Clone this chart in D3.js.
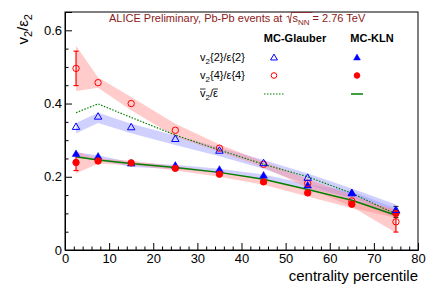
<!DOCTYPE html>
<html>
<head>
<meta charset="utf-8">
<script src="https://cdn.jsdelivr.net/npm/d3@7"></script>
<style>
  body { margin: 0; background: #fff; }
  text { font-family: "Liberation Sans", Arial, sans-serif; }
</style>
</head>
<body>
<div id="chart"></div>
<script>
// data
const cent = [2.5, 7.5, 15, 25, 35, 45, 55, 65, 75];

// MC-Glauber
const glbV22 = [0.333, 0.361, 0.332, 0.300, 0.268, 0.234, 0.194, 0.152, 0.106];
const glbV22Sys = [0.014, 0.014, 0.013, 0.013, 0.012, 0.012, 0.015, 0.016, 0.018];
const glbV24 = [0.496, 0.457, 0.400, 0.327, 0.278, 0.234, 0.182, 0.134, 0.077];
const glbV24Sys = [0.062, 0.014, 0.018, 0.018, 0.010, 0.008, 0.012, 0.016, 0.030];
const glbV24Err = [0.047, 0.004, 0.003, 0.003, 0.003, 0.003, 0.004, 0.006, 0.028];
const glbMean = [0.375, 0.399, 0.362, 0.314, 0.273, 0.234, 0.200, 0.155, 0.098];

// MC-KLN
const klnV22 = [0.259, 0.252, 0.233, 0.227, 0.216, 0.200, 0.173, 0.152, 0.104];
const klnV22Sys = [0.008, 0.007, 0.006, 0.006, 0.006, 0.006, 0.007, 0.008, 0.010];
const klnV22Err = [0.003, 0.002, 0.002, 0.002, 0.002, 0.002, 0.003, 0.004, 0.015];
const klnV24 = [0.239, 0.243, 0.238, 0.223, 0.207, 0.186, 0.156, 0.125, 0.100];
const klnV24Sys = [0.030, 0.007, 0.006, 0.006, 0.007, 0.008, 0.010, 0.010, 0.012];
const klnV24Err = [0.022, 0.004, 0.003, 0.003, 0.003, 0.003, 0.003, 0.004, 0.006];
const klnMean = [0.2545, 0.246, 0.236, 0.225, 0.212, 0.193, 0.165, 0.136, 0.095];

const xTicks = [0, 10, 20, 30, 40, 50, 60, 70, 80];
const yTicks = [0, 0.2, 0.4, 0.6];

//chart properties
const width = 436, height = 295;
const margin = { top: 12, right: 18, bottom: 45, left: 65 };
const chartW = width - margin.left - margin.right;
const chartH = height - margin.top - margin.bottom;

const red = "#ff0000", blue = "#0000ff", green = "#007f00";

const svg = d3.select("#chart").append("svg")
    .attr("width", width)
    .attr("height", height);

const g = svg.append("g")
    .attr("transform", "translate(" + margin.left + "," + margin.top + ")");

const x = d3.scaleLinear().domain([0, 80]).range([0, chartW]);
const y = d3.scaleLinear().domain([0, 0.65]).range([chartH, 0]);

// bands
const band = d3.area()
    .x(d => x(d.c))
    .y0(d => y(d.v - d.s))
    .y1(d => y(d.v + d.s));
const rows = (v, s) => cent.map((c, i) => ({ c: c, v: v[i], s: s[i] }));

g.append("path").datum(rows(glbV22, glbV22Sys))
    .attr("d", band).attr("fill", "rgba(150,150,255,0.45)");
g.append("path").datum(rows(klnV22, klnV22Sys))
    .attr("d", band).attr("fill", "rgba(150,150,255,0.45)");
g.append("path").datum(rows(glbV24, glbV24Sys))
    .attr("d", band).attr("fill", "rgba(255,140,140,0.45)");
g.append("path").datum(rows(klnV24, klnV24Sys))
    .attr("d", band).attr("fill", "rgba(255,140,140,0.45)");

// lines
const line = d3.line().x((d, i) => x(cent[i])).y(d => y(d));
g.append("path").datum(glbMean).attr("d", line)
    .attr("fill", "none").attr("stroke", green).attr("stroke-width", 1.2)
    .attr("stroke-dasharray", "1.5,1.5");
g.append("path").datum(klnMean).attr("d", line)
    .attr("fill", "none").attr("stroke", green).attr("stroke-width", 1.5);

// error bars
function errBars(vals, errs, color) {
    const eg = g.append("g").attr("stroke", color).attr("stroke-width", 1.2);
    cent.forEach((c, i) => {
        if (errs[i] < 0.008) return;
        const cx = x(c);
        eg.append("line").attr("x1", cx).attr("x2", cx)
            .attr("y1", y(vals[i] - errs[i])).attr("y2", y(vals[i] + errs[i]));
        [vals[i] - errs[i], vals[i] + errs[i]].forEach(v => {
            eg.append("line").attr("x1", cx - 2.5).attr("x2", cx + 2.5)
                .attr("y1", y(v)).attr("y2", y(v));
        });
    });
}
errBars(klnV22, klnV22Err, "#333");
errBars(glbV24, glbV24Err, red);
errBars(klnV24, klnV24Err, red);

// markers
const tri = d3.symbol().type(d3.symbolTriangle);
function triangles(vals, filled, size) {
    g.append("g").selectAll("path").data(vals).join("path")
        .attr("transform", (d, i) => "translate(" + x(cent[i]) + "," + (y(d) - 0.8) + ")")
        .attr("d", tri.size(size))
        .attr("fill", filled ? blue : "none")
        .attr("stroke", blue).attr("stroke-width", filled ? 0.5 : 1);
}
function circles(vals, filled) {
    g.append("g").selectAll("circle").data(vals).join("circle")
        .attr("cx", (d, i) => x(cent[i]))
        .attr("cy", d => y(d))
        .attr("r", 3.2)
        .attr("fill", filled ? red : "none")
        .attr("stroke", red).attr("stroke-width", 1);
}
triangles(klnV22, true, 26);
circles(klnV24, true);
circles(glbV24, false);
triangles(glbV22, false, 24);

// axes
g.append("g").attr("transform", "translate(0," + chartH + ")")
    .call(d3.axisBottom(x).tickValues(xTicks).tickSize(-7).tickPadding(4).tickFormat(d3.format("d")));
g.append("g").attr("transform", "translate(0," + chartH + ")")
    .call(d3.axisBottom(x).tickValues(d3.range(0, 81, 2).filter(v => v % 10)).tickSize(-3.5).tickFormat(""))
    .select(".domain").remove();

const yAxisG = g.append("g")
    .call(d3.axisLeft(y).tickValues(yTicks).tickSize(-7).tickPadding(3).tickFormat(d => d === 0 ? "0" : d3.format(".1f")(d)));
g.append("g")
    .call(d3.axisLeft(y).tickValues(d3.range(1, 12).filter(v => v % 4).map(v => v * 0.05)).tickSize(-3.5).tickFormat(""))
    .select(".domain").remove();

svg.selectAll(".tick text").attr("font-size", 13).attr("fill", "#000")
    .attr("font-family", "Liberation Sans, Arial, sans-serif");
svg.selectAll(".tick line").attr("stroke", "#000");
yAxisG.selectAll(".tick text").attr("x", -3);

// frame
g.append("rect").attr("width", chartW).attr("height", chartH)
    .attr("fill", "none").attr("stroke", "#000").attr("stroke-width", 1);

// axis titles
svg.append("text")
    .attr("x", margin.left + chartW).attr("y", 281)
    .attr("text-anchor", "end").attr("font-size", 15)
    .text("centrality percentile");

const yl = svg.append("text")
    .attr("transform", "translate(28,14) rotate(-90)")
    .attr("text-anchor", "end").attr("font-size", 15);
yl.append("tspan").text("v");
yl.append("tspan").attr("dy", 4).attr("font-size", 11).text("2");
yl.append("tspan").attr("dy", -4).text("/ε");
yl.append("tspan").attr("dy", 4).attr("font-size", 11).text("2");

// title
const title = svg.append("text")
    .attr("x", 109).attr("y", 22)
    .attr("font-size", 11).attr("fill", "#8b1a1a");
title.append("tspan").text("ALICE Preliminary, Pb-Pb events at ");
title.append("tspan").attr("dx", 7).text("s");
title.append("tspan").attr("dy", 2.5).attr("font-size", 8).text("NN");
title.append("tspan").attr("dy", -2.5).text(" = 2.76 TeV");
{
    const ext = title.node().getExtentOfChar(35);
    const x0 = ext.x - 1, x1 = ext.x + 20;
    svg.append("path")
        .attr("d", "M" + (x0 - 5) + ",17 L" + (x0 - 3) + ",16 L" + (x0 - 1.5) + ",23 L" + x0 + ",12.5 L" + x1 + ",12.5")
        .attr("fill", "none").attr("stroke", "#8b1a1a").attr("stroke-width", 0.8);
}

// legend
const lg = svg.append("g");
lg.append("text").attr("x", 295).attr("y", 42).attr("text-anchor", "middle")
    .attr("font-size", 11).attr("font-weight", "bold").text("MC-Glauber");
lg.append("text").attr("x", 372).attr("y", 42).attr("text-anchor", "middle")
    .attr("font-size", 11).attr("font-weight", "bold").text("MC-KLN");

function legLabel(yy, num) {
    const t = lg.append("text").attr("x", 200).attr("y", yy).attr("font-size", 11);
    t.append("tspan").text("v");
    t.append("tspan").attr("dy", 3).attr("font-size", 8).text("2");
    t.append("tspan").attr("dy", -3).text("{" + num + "}/ε{" + num + "}");
}
legLabel(61, 2);
legLabel(79, 4);
{
    const t = lg.append("text").attr("x", 200).attr("y", 97).attr("font-size", 11);
    t.append("tspan").text("v");
    t.append("tspan").attr("dy", 3).attr("font-size", 8).text("2");
    t.append("tspan").attr("dy", -3).text("/ε");
    const n = t.node();
    const a = n.getExtentOfChar(0), b = n.getExtentOfChar(3);
    [a, b].forEach(e => {
        lg.append("line").attr("x1", e.x).attr("x2", e.x + e.width)
            .attr("y1", 89).attr("y2", 89).attr("stroke", "#000").attr("stroke-width", 0.8);
    });
}
lg.append("path").attr("transform", "translate(274,58)").attr("d", tri.size(20)())
    .attr("fill", "none").attr("stroke", blue).attr("stroke-width", 1);
lg.append("path").attr("transform", "translate(357,58)").attr("d", tri.size(20)())
    .attr("fill", blue).attr("stroke", blue).attr("stroke-width", 0.5);
lg.append("circle").attr("cx", 274).attr("cy", 75.5).attr("r", 2.8)
    .attr("fill", "none").attr("stroke", red);
lg.append("circle").attr("cx", 357).attr("cy", 75.5).attr("r", 2.8)
    .attr("fill", red).attr("stroke", red);
lg.append("line").attr("x1", 264).attr("x2", 285).attr("y1", 94).attr("y2", 94)
    .attr("stroke", green).attr("stroke-width", 1.2).attr("stroke-dasharray", "1.5,1.5");
lg.append("line").attr("x1", 351).attr("x2", 363).attr("y1", 94).attr("y2", 94)
    .attr("stroke", green).attr("stroke-width", 1.5);
</script>
</body>
</html>
